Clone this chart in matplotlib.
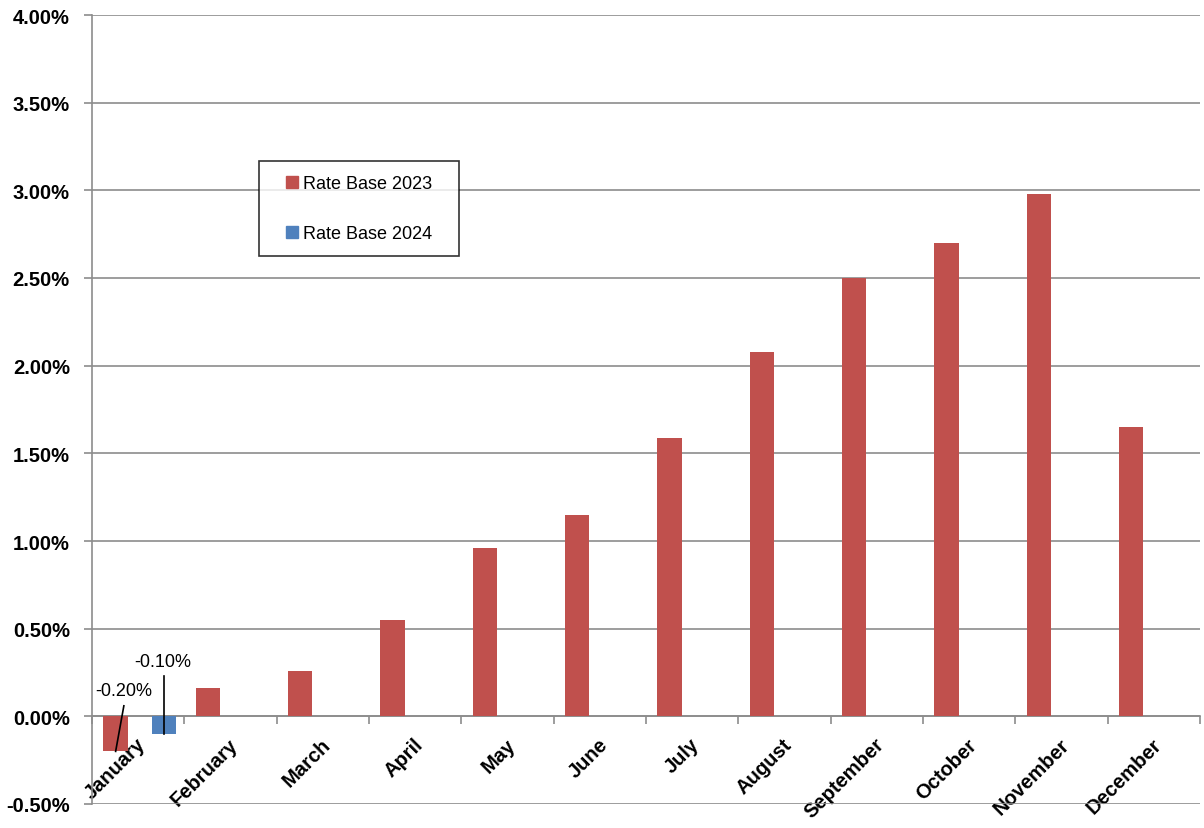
import matplotlib

matplotlib.use("Agg")
import matplotlib.pyplot as plt
import numpy as np
from matplotlib.lines import Line2D
from matplotlib.ticker import FuncFormatter, MultipleLocator
from matplotlib.transforms import ScaledTranslation

plt.rcParams["font.family"] = ["Liberation Sans", "DejaVu Sans"]

MONTHS = ["January", "February", "March", "April", "May", "June",
          "July", "August", "September", "October", "November", "December"]
RATE_2023 = [-0.20, 0.16, 0.26, 0.55, 0.96, 1.15, 1.59, 2.08, 2.50, 2.70, 2.98, 1.65]
RATE_2024 = [-0.10]  # only January reported so far
SERIES_NAMES = ["Rate Base 2023", "Rate Base 2024"]

RED = "#C0504D"
BLUE = "#4F81BD"
GRID = "#8C8C8C"

fig = plt.figure(figsize=(12.04, 8.29), dpi=100)
ax = fig.add_axes([92 / 1204, 1 - 805 / 829, (1200 - 92) / 1204, (805 - 16) / 829])

x = np.arange(len(MONTHS))
bar_w = 0.263
ax.bar(x - 0.244, RATE_2023, width=bar_w, color=RED, zorder=3)
ax.bar(x[:len(RATE_2024)] + 0.278, RATE_2024, width=bar_w, color=BLUE, zorder=3)

# data labels with leader lines for the negative January values
ax.plot([x[0] - 0.244, x[0] - 0.155], [RATE_2023[0], 0.06], color="black", lw=1.2, zorder=4)
ax.text(x[0] - 0.155, 0.145, f"{RATE_2023[0]:.2f}%", ha="center", va="center", fontsize=13)
ax.plot([x[0] + 0.278, x[0] + 0.278], [RATE_2024[0], 0.23], color="black", lw=1.2, zorder=4)
ax.text(x[0] + 0.27, 0.315, f"{RATE_2024[0]:.2f}%", ha="center", va="center", fontsize=13)

ax.set_xlim(-0.5, len(MONTHS) - 0.5)
ax.set_ylim(-0.5, 4.0)
ax.yaxis.set_major_locator(MultipleLocator(0.5))
ax.yaxis.set_major_formatter(FuncFormatter(lambda v, _: f"{v:.2f}%"))
ax.grid(axis="y", color=GRID, lw=1.2, zorder=0)
ax.set_axisbelow(True)

# category axis sits on the zero line
ax.spines["bottom"].set_position(("data", 0))
for side in ("top", "right"):
    ax.spines[side].set_visible(False)
for side in ("left", "bottom"):
    ax.spines[side].set_color(GRID)
    ax.spines[side].set_linewidth(1.2)

ax.set_xticks(x)
ax.set_xticks(np.arange(len(MONTHS) + 1) - 0.5, minor=True)
ax.set_xticklabels(MONTHS, rotation=45, ha="right", rotation_mode="anchor",
                   fontsize=14.5, fontweight="bold")
ax.tick_params(axis="x", which="major", length=0, pad=13)
ax.tick_params(axis="x", which="minor", length=6, color=GRID, width=1.2, direction="out")
ax.tick_params(axis="y", length=6, color=GRID, width=1.2, labelsize=14.5, pad=10)
for lbl in ax.get_yticklabels():
    lbl.set_fontweight("bold")
shift = ScaledTranslation(-0.02, 0, fig.dpi_scale_trans)
for lbl in ax.get_xticklabels():
    lbl.set_transform(lbl.get_transform() + shift)

handles = [Line2D([], [], marker="s", ls="none", color=c, markersize=9) for c in (RED, BLUE)]
leg = ax.legend(handles, SERIES_NAMES, loc="upper left",
                bbox_to_anchor=(259 / 1204, 1 - 162 / 829, 200 / 1204, 0),
                bbox_transform=fig.transFigure, mode="expand", numpoints=1,
                fontsize=13, frameon=True, fancybox=False, edgecolor="black",
                handlelength=2.0, handletextpad=-0.35, labelspacing=1.8,
                borderpad=0.8, borderaxespad=0)
leg.get_frame().set_linewidth(1.2)

fig.savefig("out.png", dpi=100)
